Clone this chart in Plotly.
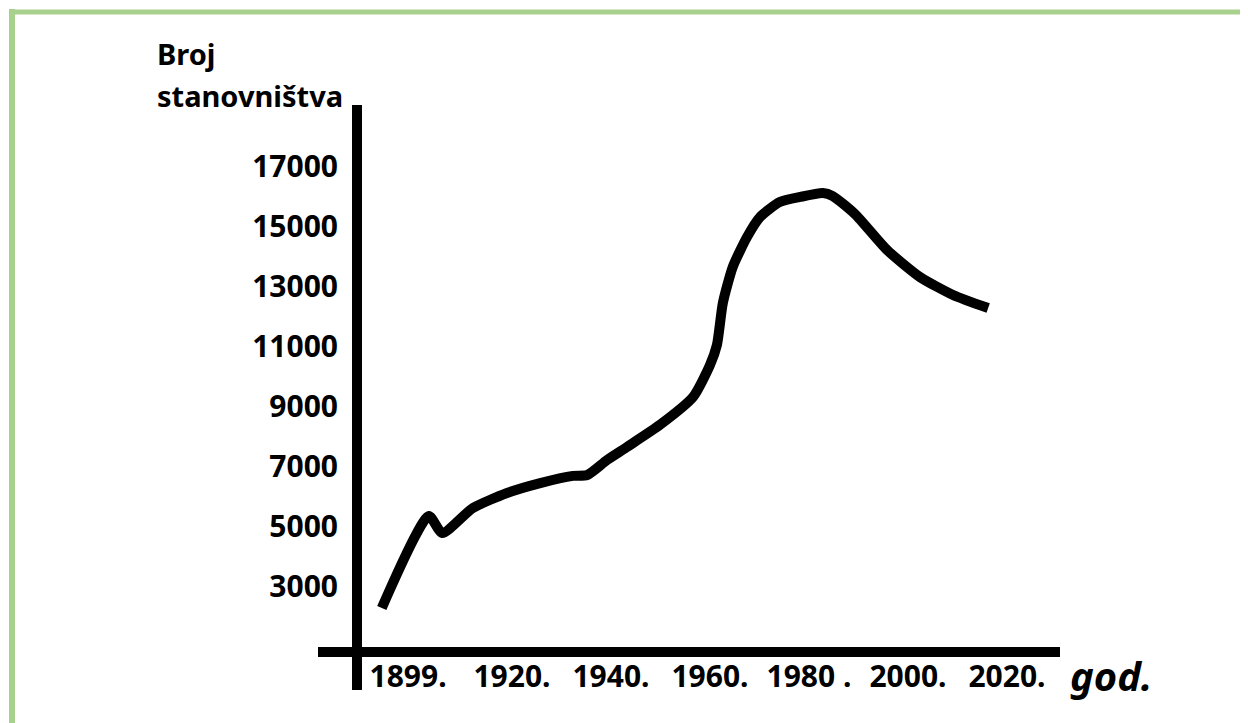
import plotly.graph_objects as go

# ---- data ----
years = [1893.7, 1903.2, 1905.9, 1912.1, 1919.0, 1925.7, 1932.3, 1935.2, 1939.2,
         1943.2, 1949.9, 1956.6, 1960.0, 1961.4, 1962.6, 1964.6, 1967.5, 1970.1,
         1974.1, 1978.2, 1982.8, 1984.8, 1989.3, 1995.8, 2002.4, 2009.1, 2016.2]
population = [2290, 5355, 4790, 5620, 6120, 6450, 6690, 6720, 7220,
              7650, 8390, 9320, 10380, 11050, 12450, 13650, 14650, 15310,
              15810, 15980, 16110, 16010, 15410, 14210, 13315, 12715, 12280]

x_tickvals = [1899, 1920, 1940, 1960, 1980, 2000, 2020]
x_ticktext = ["1899.", "1920.", "1940.", "1960.", "1980 .", "2000.", "2020."]
y_tickvals = [3000, 5000, 7000, 9000, 11000, 13000, 15000, 17000]
y_ticktext = ["3000", "5000", "7000", "9000", "11000", "13000", "15000", "17000"]

y_title_lines = ["Broj", "stanovništva"]
x_title = "god."

# ---- layout geometry (page coords; the page body has an 8px margin) ----
OFF = 8
W, H = 1248 - OFF, 723 - OFF
PL, PR, PT, PB = 357, 1060, 105, 652          # plot area in page pixels
L, T = PL - OFF, PT - OFF
R, B = W - (PR - OFF), H - (PB - OFF)
PW, PH = W - L - R, H - T - B


def px(xp):
    return (xp - OFF - L) / PW


def py(yp):
    return (H - B - (yp - OFF)) / PH


FONT = "Noto Sans"

fig = go.Figure()
fig.add_trace(go.Scatter(
    x=years, y=population, mode="lines",
    line=dict(color="black", width=10, shape="spline", smoothing=0.6),
    hoverinfo="skip", showlegend=False,
))

fig.update_layout(
    width=W, height=H,
    margin=dict(l=L, r=R, t=T, b=B, pad=0),
    paper_bgcolor="white", plot_bgcolor="white",
    xaxis=dict(
        range=[1888.69, 2030.71], showgrid=False, zeroline=False, showline=False,
        tickmode="array", tickvals=x_tickvals, ticktext=x_ticktext, ticks="",
        tickfont=dict(family=FONT, size=30, color="black", weight="bold"),
        ticklabelstandoff=4,
    ),
    yaxis=dict(
        range=[825, 19043], showgrid=False, zeroline=False, showline=False,
        tickmode="array", tickvals=y_tickvals, ticktext=y_ticktext, ticks="",
        tickfont=dict(family=FONT, size=30, color="black", weight="bold"),
        ticklabelstandoff=18,
    ),
)

shapes = []
# axes drawn as thick strokes crossing each other
shapes.append(dict(type="line", xref="paper", yref="paper",
                   x0=px(357), x1=px(357), y0=py(105), y1=py(690),
                   line=dict(color="black", width=10)))
shapes.append(dict(type="line", xref="paper", yref="paper",
                   x0=px(318), x1=px(1060), y0=py(652), y1=py(652),
                   line=dict(color="black", width=10)))
# green frame (top and left)
shapes.append(dict(type="line", xref="paper", yref="paper",
                   x0=px(9), x1=px(1260), y0=py(12), y1=py(12),
                   line=dict(color="#A9D18E", width=5)))
shapes.append(dict(type="line", xref="paper", yref="paper",
                   x0=px(12), x1=px(12), y0=py(9), y1=py(740),
                   line=dict(color="#A9D18E", width=6)))
fig.update_layout(shapes=shapes)

annotations = [
    dict(text=y_title_lines[0], xref="paper", yref="paper", x=px(155), y=py(54),
         xanchor="left", yanchor="middle", showarrow=False,
         font=dict(family=FONT, size=29, color="black", weight="bold")),
    dict(text=y_title_lines[1], xref="paper", yref="paper", x=px(155), y=py(96),
         xanchor="left", yanchor="middle", showarrow=False,
         font=dict(family=FONT, size=29, color="black", weight="bold")),
    dict(text="<i>" + x_title + "</i>", xref="paper", yref="paper", x=px(1068), y=py(675),
         xanchor="left", yanchor="middle", showarrow=False,
         font=dict(family=FONT, size=40, color="black", weight="bold")),
]
fig.update_layout(annotations=annotations)

fig.write_html("out.html")
